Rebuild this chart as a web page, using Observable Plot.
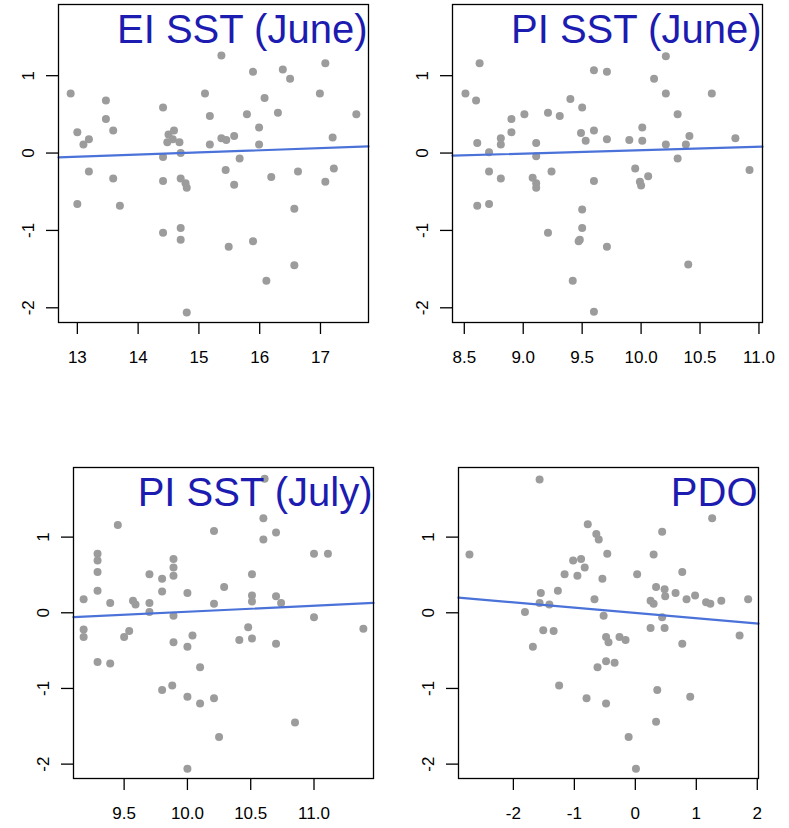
<!DOCTYPE html>
<html>
<head>
<meta charset="utf-8">
<script src="https://cdn.jsdelivr.net/npm/d3@7"></script>
<script src="https://cdn.jsdelivr.net/npm/@observablehq/plot@0.6"></script>
<style>
  html, body { margin: 0; padding: 0; background: #fff; }
  #chart { position: relative; width: 789px; height: 828px; background: #fff; }
  #chart > div { position: absolute; }
</style>
</head>
<body>
<div id="chart"></div>
<script>
// ---- data ----
const titles = ["EI SST (June)", "PI SST (June)", "PI SST (July)", "PDO"];

const eiJuneX = [12.89,13.0,13.0,13.10,13.19,13.19,13.47,13.47,13.59,13.59,13.70,14.41,14.41,14.41,14.41,14.50,14.59,14.48,14.57,14.68,14.70,14.70,14.70,14.70,14.78,14.80,14.80,15.10,15.18,15.18,15.37,15.37,15.45,15.44,15.49,15.58,15.58,15.67,15.79,15.89,15.89,15.99,15.99,16.08,16.11,16.19,16.30,16.38,16.50,16.57,16.57,16.63,16.99,17.08,17.08,17.20,17.22,17.59];
const eiJuneY = [0.77,0.27,-0.66,0.11,0.18,-0.24,0.68,0.44,0.29,-0.33,-0.68,0.59,-0.05,-0.36,-1.03,0.24,0.29,0.14,0.18,0.14,0.0,-0.33,-0.97,-1.12,-0.39,-0.45,-2.06,0.77,0.48,0.11,1.26,0.19,0.17,-0.22,-1.21,0.22,-0.41,-0.07,0.50,1.05,-1.14,0.33,0.11,0.71,-1.65,-0.31,0.52,1.08,0.96,-0.72,-1.45,-0.24,0.77,1.16,-0.37,0.20,-0.20,0.50];

const piJuneX = [8.51,8.60,8.61,8.61,8.63,8.71,8.71,8.71,8.81,8.81,8.81,8.90,8.90,9.01,9.08,9.11,9.11,9.11,9.11,9.21,9.21,9.24,9.31,9.40,9.42,9.50,9.49,9.50,9.50,9.48,9.47,9.53,9.60,9.60,9.60,9.60,9.71,9.71,9.71,9.90,9.95,9.99,10.0,10.01,10.01,10.06,10.11,10.21,10.21,10.21,10.31,10.31,10.38,10.41,10.40,10.60,10.80,10.92];
const piJuneY = [0.77,0.68,0.13,-0.68,1.16,0.01,-0.24,-0.66,0.19,0.11,-0.33,0.44,0.27,0.50,-0.32,0.13,-0.04,-0.39,-0.45,0.52,-1.03,-0.24,0.48,0.70,-1.65,0.59,0.26,-0.73,-0.97,-1.12,-1.14,0.16,1.07,0.29,-0.36,-2.05,1.05,0.18,-1.21,0.17,-0.20,-0.37,-0.42,0.33,0.16,-0.30,0.96,1.25,0.77,0.11,0.50,-0.07,0.11,0.22,-1.44,0.77,0.19,-0.22];

const piJulyX = [9.18,9.18,9.18,9.29,9.29,9.29,9.29,9.29,9.39,9.39,9.45,9.50,9.54,9.57,9.59,9.70,9.70,9.70,9.80,9.80,9.80,9.89,9.89,9.89,9.89,9.89,9.88,10.0,10.0,10.0,10.0,10.04,10.10,10.10,10.21,10.21,10.21,10.25,10.29,10.41,10.48,10.51,10.51,10.51,10.51,10.60,10.60,10.61,10.70,10.70,10.74,10.70,10.85,11.0,11.0,11.11,11.39];
const piJulyY = [0.18,-0.22,-0.32,0.78,0.69,0.54,0.29,-0.65,0.13,-0.67,1.16,-0.32,-0.24,0.16,0.11,0.51,0.13,0.01,0.45,0.28,-1.02,0.71,0.60,0.49,-0.04,-0.39,-0.96,0.26,-0.45,-1.11,-2.06,-0.30,-0.72,-1.20,1.08,0.12,-1.13,-1.64,0.34,-0.36,-0.19,0.51,0.23,0.15,-0.34,1.25,0.97,1.77,1.06,0.22,0.13,-0.41,-1.45,0.78,-0.06,0.78,-0.21];

const pdoX = [-2.72,-1.57,-1.55,-1.57,-1.51,-1.81,-1.68,-1.41,-1.34,-1.27,-1.25,-1.16,-1.02,-0.95,-0.89,-0.83,-0.80,-0.78,-0.67,-0.64,-0.60,-0.62,-0.54,-0.52,-0.46,-0.48,-0.44,-0.48,-0.48,-0.34,-0.26,-0.16,-0.11,0.03,0.01,0.25,0.30,0.25,0.30,0.34,0.36,0.34,0.44,0.44,0.48,0.49,0.48,0.66,0.77,0.77,0.84,0.90,0.98,1.16,1.23,1.26,1.41,1.71,1.85];
const pdoY = [0.77,1.76,0.26,0.13,-0.23,0.01,-0.45,0.11,-0.24,0.29,-0.96,0.51,0.69,0.49,0.71,0.60,-1.13,1.17,0.18,1.04,0.97,-0.72,0.45,-0.04,0.78,-0.32,-0.39,-0.64,-1.20,-0.66,-0.32,-0.36,-1.64,0.51,-2.06,0.16,0.12,-0.20,0.77,0.34,-1.02,-1.44,1.07,-0.06,0.31,0.22,-0.20,0.26,0.54,-0.41,0.18,-1.11,0.23,0.14,0.12,1.25,0.16,-0.30,0.18];

// fitted line coefficients
const fitIntercept = [-0.409, -0.404, -0.775, -0.003];
const fitSlope = [0.0278, 0.0441, 0.0789, -0.070];

// axis domains and ticks
const xDomains = [[12.69, 17.79], [8.40, 11.03], [9.10, 11.47], [-2.90, 2.02]];
const yDomain = [-2.19, 1.92];
const xTicks = [[13, 14, 15, 16, 17], [8.5, 9.0, 9.5, 10.0, 10.5, 11.0], [9.5, 10.0, 10.5, 11.0], [-2, -1, 0, 1, 2]];
const xTickDecimals = [0, 1, 1, 0];
const yTicks = [-2, -1, 0, 1];

// ---- layout ----
const panels = [
  {xs: eiJuneX, ys: eiJuneY, left: 0, top: 0, w: 395, h: 390, ml: 58, mr: 27, mt: 4, mb: 68},
  {xs: piJuneX, ys: piJuneY, left: 394, top: 0, w: 395, h: 390, ml: 58, mr: 27, mt: 4, mb: 68},
  {xs: piJulyX, ys: piJulyY, left: 0, top: 440, w: 395, h: 388, ml: 73, mr: 22, mt: 27, mb: 50},
  {xs: pdoX, ys: pdoY, left: 394, top: 440, w: 395, h: 388, ml: 64, mr: 31, mt: 27, mb: 50}
];

const FONT = "'Liberation Sans', Arial, Helvetica, sans-serif";
const chart = document.getElementById("chart");

panels.forEach((p, i) => {
  const pts = p.xs.map((x, k) => ({x, y: p.ys[k]}));
  const fit = xDomains[i].map(x => ({x, y: fitIntercept[i] + fitSlope[i] * x}));
  const svg = Plot.plot({
    width: p.w,
    height: p.h,
    marginLeft: p.ml,
    marginRight: p.mr,
    marginTop: p.mt,
    marginBottom: p.mb,
    style: {fontFamily: FONT, fontSize: "17px", color: "#000", background: "transparent", overflow: "visible"},
    x: {domain: xDomains[i]},
    y: {domain: yDomain},
    marks: [
      Plot.dot(pts, {x: "x", y: "y", r: 4, fill: "#9c9c9c", stroke: null}),
      Plot.line(fit, {x: "x", y: "y", stroke: "#4a72d8", strokeWidth: 2.2}),
      Plot.text([titles[i]], {
        frameAnchor: "top-right", text: d => d, dx: -1, dy: 10, lineAnchor: "top",
        fontSize: 40, fill: "#1c1cb0", fontFamily: FONT
      }),
      Plot.frame({stroke: "#000", strokeWidth: 1.3}),
      Plot.axisX({ticks: xTicks[i], tickFormat: d => d.toFixed(xTickDecimals[i]), tickSize: 12, tickPadding: 16, label: null, fontSize: 17, stroke: "#000", strokeWidth: 1.3}),
      Plot.axisY({ticks: yTicks, tickFormat: d => String(d), tickSize: 12, tickPadding: 13, tickRotate: -90, label: null, fontSize: 17, stroke: "#000", strokeWidth: 1.3})
    ]
  });
  const holder = document.createElement("div");
  holder.style.left = p.left + "px";
  holder.style.top = p.top + "px";
  holder.appendChild(svg);
  chart.appendChild(holder);
});
</script>
</body>
</html>
